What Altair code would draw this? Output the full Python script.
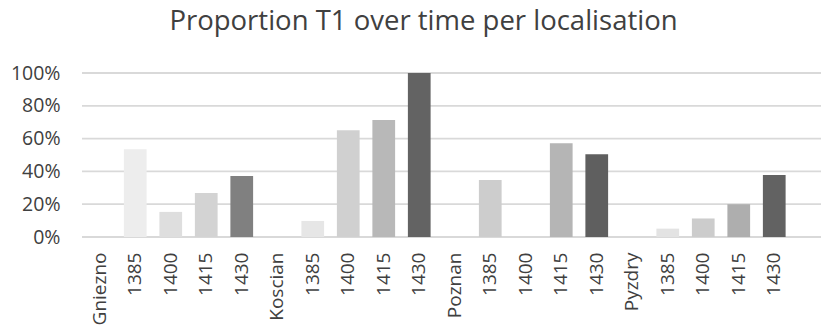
import altair as alt
import pandas as pd

locations = ["Gniezno", "Koscian", "Poznan", "Pyzdry"]
years = ["1385", "1400", "1415", "1430"]
values = {
    "Gniezno": [0.535, 0.153, 0.269, 0.372],
    "Koscian": [0.098, 0.651, 0.713, 1.0],
    "Poznan": [0.347, 0.0, 0.572, 0.504],
    "Pyzdry": [0.051, 0.113, 0.200, 0.378],
}
colors = {
    "Gniezno": ["#ededed", "#dedede", "#d3d3d3", "#808080"],
    "Koscian": ["#e6e6e6", "#d0d0d0", "#b8b8b8", "#636363"],
    "Poznan": ["#cdcdcd", "#d0d0d0", "#b5b5b5", "#5f5f5f"],
    "Pyzdry": ["#e3e3e3", "#cccccc", "#aeaeae", "#626262"],
}
grid_values = [0, 0.2, 0.4, 0.6, 0.8, 1.0]

keys = []
rows = []
for loc in locations:
    keys.append(loc)
    for i, yr in enumerate(years):
        k = f"{loc}|{yr}"
        keys.append(k)
        rows.append({"key": k, "value": values[loc][i], "color": colors[loc][i]})
df = pd.DataFrame(rows)
grid_df = pd.DataFrame({"g": grid_values})

FONT = "Open Sans"
TXT = "#404040"

yscale = alt.Scale(domain=[0, 1], nice=False)
yaxis = alt.Axis(
    title=None,
    format=".0%",
    values=grid_values,
    ticks=False,
    domain=False,
    grid=False,
    labelPadding=22,
    labelFont=FONT,
    labelFontSize=19.5,
    labelColor=TXT,
)

grid = (
    alt.Chart(grid_df)
    .mark_rule(color="#d9d9d9", strokeWidth=1.8)
    .encode(
        y=alt.Y("g:Q", scale=yscale, axis=yaxis),
        x=alt.value(0),
        x2=alt.value(739),
    )
)

bars = (
    alt.Chart(df)
    .mark_bar()
    .encode(
        x=alt.X(
            "key:N",
            scale=alt.Scale(domain=keys, range=[0, 710], paddingInner=0.36, paddingOuter=0.18),
            axis=alt.Axis(
                title=None,
                labelAngle=-90,
                labelAlign="right",
                labelBaseline="middle",
                labelPadding=15,
                ticks=False,
                domain=False,
                labelExpr="indexof(datum.label, '|') < 0 ? datum.label : split(datum.label, '|')[1]",
                labelFont=FONT,
                labelFontSize=19,
                labelColor=TXT,
            ),
        ),
        y=alt.Y("value:Q", scale=yscale, axis=yaxis),
        color=alt.Color("color:N", scale=None),
    )
)

chart = (
    alt.layer(grid, bars)
    .properties(
        width=739,
        height=164,
        autosize=alt.AutoSizeParams(type="none"),
        padding={"left": 82, "top": 73, "right": 0, "bottom": 92},
        title=alt.TitleParams(
            "Proportion T1 over time per localisation",
            font=FONT,
            fontSize=27.5,
            fontWeight="normal",
            color=TXT,
            anchor="middle",
            dx=-28,
            offset=28,
        ),
    )
    .configure_view(stroke=None)
)

chart.save("out.html", embed_options={"renderer": "svg", "actions": False})
